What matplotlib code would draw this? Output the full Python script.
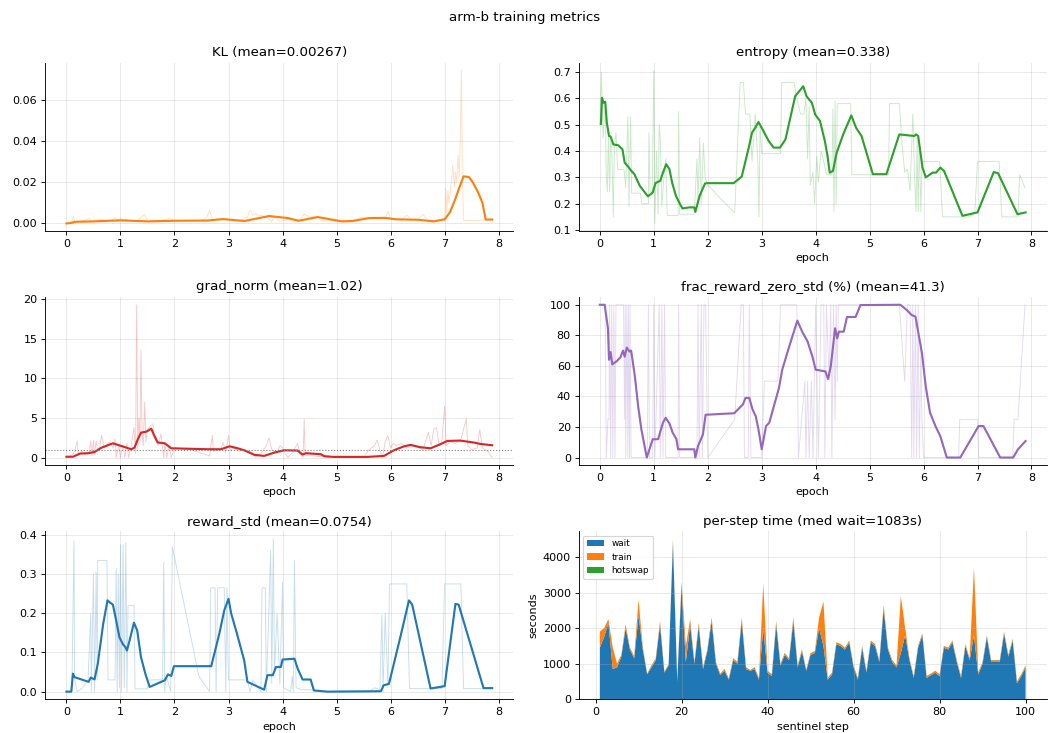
import matplotlib
matplotlib.use("Agg")
import matplotlib.pyplot as plt

# ---- KL ----
kl_raw_x = [0.0, 0.05, 0.1, 0.13, 0.15, 0.25, 0.35, 0.42, 0.45, 0.55, 0.65, 0.75, 0.85, 0.9, 0.95, 1.0, 1.05, 1.1,
            1.2, 1.3, 1.45, 1.5, 1.6, 1.75, 1.9, 2.0, 2.2, 2.5, 2.6, 2.65, 2.7, 2.8, 2.95, 3.0, 3.2, 3.35, 3.4, 3.45,
            3.5, 3.55, 3.6, 3.7, 3.8, 3.85, 3.95, 4.1, 4.2, 4.35, 4.4, 4.5, 4.6, 4.7, 4.75, 4.9, 5.0, 5.15, 5.3, 5.45,
            5.6, 5.75, 5.9, 5.95, 6.0, 6.1, 6.2, 6.3, 6.4, 6.5, 6.6, 6.7, 6.8, 6.95, 7.0, 7.02, 7.04, 7.06, 7.08,
            7.12, 7.15, 7.18, 7.2, 7.22, 7.25, 7.27, 7.29, 7.31, 7.33, 7.35, 7.6, 7.75, 7.88]
kl_raw_y = [0.0, 0.0005, 0.001, 0.0035, 0.0008, 0.001, 0.0015, 0.0025, 0.001, 0.0012, 0.002, 0.001, 0.0018, 0.003,
            0.0012, 0.0025, 0.0015, 0.002, 0.0012, 0.001, 0.0045, 0.001, 0.0008, 0.0012, 0.0025, 0.0015, 0.0015,
            0.0012, 0.003, 0.0065, 0.002, 0.0022, 0.0025, 0.0015, 0.0012, 0.003, 0.0065, 0.004, 0.005, 0.0035,
            0.004, 0.003, 0.001, 0.003, 0.001, 0.002, 0.001, 0.0025, 0.0045, 0.003, 0.0035, 0.0025, 0.001, 0.0015,
            0.001, 0.001, 0.0015, 0.003, 0.003, 0.003, 0.0025, 0.006, 0.002, 0.0025, 0.0018, 0.004, 0.0015, 0.002,
            0.0045, 0.0012, 0.001, 0.002, 0.001, 0.017, 0.005, 0.016, 0.01, 0.019, 0.028, 0.018, 0.025, 0.02, 0.033,
            0.022, 0.04, 0.074, 0.02, 0.0015, 0.0015, 0.0018, 0.002]
kl_sm_x = [0.0, 0.08, 0.15, 0.5, 1.0, 1.5, 2.0, 2.6, 2.9, 3.3, 3.75, 4.1, 4.3, 4.65, 5.1, 5.3, 5.6, 5.9, 6.1, 6.5,
           6.8, 7.0, 7.1, 7.2, 7.28, 7.35, 7.45, 7.52, 7.62, 7.7, 7.76, 7.88]
kl_sm_y = [0.0, 0.0002, 0.0008, 0.001, 0.0015, 0.001, 0.0013, 0.0014, 0.0021, 0.0012, 0.0036, 0.0026, 0.0013, 0.0031,
           0.001, 0.0012, 0.0026, 0.0027, 0.002, 0.0018, 0.001, 0.002, 0.0055, 0.012, 0.018, 0.0228, 0.0225, 0.02,
           0.015, 0.01, 0.0019, 0.0019]

# ---- entropy ----
ent_raw_x = [0.0, 0.03, 0.06, 0.1, 0.12, 0.14, 0.16, 0.18, 0.2, 0.22, 0.25, 0.27, 0.3, 0.33, 0.45, 0.48, 0.52, 0.54,
             0.57, 0.59, 0.75, 0.78, 0.9, 0.91, 0.93, 0.97, 1.0, 1.02, 1.05, 1.08, 1.1, 1.12, 1.15, 1.18, 1.22, 1.25,
             1.45, 1.46, 1.48, 1.75, 1.8, 1.82, 1.85, 1.88, 1.92, 1.95, 2.0, 2.5, 2.6, 2.66, 2.7, 2.78, 2.82, 2.88,
             2.93, 2.95, 2.97, 3.0, 3.35, 3.37, 3.6, 3.65, 3.72, 3.78, 3.82, 3.85, 3.88, 3.9, 3.95, 3.98, 4.02, 4.05,
             4.1, 4.15, 4.2, 4.3, 4.32, 4.34, 4.36, 4.38, 4.4, 4.65, 4.67, 5.35, 5.37, 5.55, 5.6, 5.65, 5.7, 5.75,
             5.8, 5.83, 5.86, 5.88, 5.9, 5.92, 5.95, 5.97, 6.3, 6.35, 6.85, 6.95, 7.0, 7.4, 7.45, 7.75, 7.78, 7.88]
ent_raw_y = [0.5, 0.7, 0.45, 0.58, 0.3, 0.245, 0.47, 0.245, 0.44, 0.42, 0.15, 0.42, 0.47, 0.33, 0.33, 0.26, 0.53,
             0.19, 0.53, 0.24, 0.24, 0.2, 0.2, 0.47, 0.25, 0.24, 0.705, 0.125, 0.4, 0.16, 0.5, 0.45, 0.19, 0.28, 0.37,
             0.155, 0.155, 0.55, 0.16, 0.16, 0.37, 0.2, 0.45, 0.2, 0.43, 0.3, 0.27, 0.165, 0.66, 0.66, 0.54, 0.54,
             0.36, 0.54, 0.35, 0.15, 0.5, 0.39, 0.39, 0.66, 0.66, 0.6, 0.54, 0.54, 0.6, 0.37, 0.57, 0.27, 0.32, 0.2,
             0.38, 0.28, 0.4, 0.36, 0.31, 0.31, 0.56, 0.17, 0.59, 0.2, 0.58, 0.58, 0.31, 0.31, 0.58, 0.58, 0.43,
             0.32, 0.33, 0.25, 0.54, 0.32, 0.17, 0.45, 0.17, 0.43, 0.17, 0.36, 0.36, 0.15, 0.15, 0.17, 0.36, 0.36,
             0.15, 0.15, 0.31, 0.26]
ent_sm_x = [0.02, 0.04, 0.07, 0.1, 0.13, 0.17, 0.2, 0.25, 0.34, 0.42, 0.46, 0.54, 0.57, 0.64, 0.74, 0.86, 0.89, 0.98,
            1.03, 1.12, 1.17, 1.23, 1.29, 1.34, 1.41, 1.47, 1.53, 1.66, 1.75, 1.77, 1.85, 1.95, 1.99, 2.48, 2.63,
            2.76, 2.82, 2.88, 2.94, 3.0, 3.13, 3.22, 3.34, 3.44, 3.62, 3.77, 3.83, 3.93, 3.99, 4.08, 4.17, 4.22,
            4.26, 4.32, 4.39, 4.51, 4.66, 4.75, 4.85, 5.06, 5.31, 5.55, 5.83, 5.86, 5.9, 5.98, 6.04, 6.17, 6.23,
            6.31, 6.38, 6.72, 7.0, 7.3, 7.38, 7.74, 7.89]
ent_sm_y = [0.503, 0.602, 0.583, 0.587, 0.507, 0.457, 0.455, 0.425, 0.422, 0.406, 0.356, 0.337, 0.328, 0.312, 0.268,
            0.236, 0.228, 0.242, 0.278, 0.287, 0.318, 0.35, 0.331, 0.28, 0.23, 0.205, 0.182, 0.186, 0.186, 0.169,
            0.23, 0.277, 0.278, 0.278, 0.303, 0.413, 0.47, 0.488, 0.51, 0.488, 0.438, 0.413, 0.413, 0.444, 0.608,
            0.646, 0.608, 0.583, 0.539, 0.514, 0.438, 0.381, 0.318, 0.324, 0.394, 0.463, 0.535, 0.488, 0.457, 0.312,
            0.312, 0.463, 0.457, 0.463, 0.457, 0.337, 0.3, 0.318, 0.318, 0.337, 0.324, 0.154, 0.167, 0.32, 0.316,
            0.16, 0.167]

# ---- grad_norm ----
gn_raw_x = [0.0, 0.05, 0.1, 0.15, 0.2, 0.22, 0.28, 0.35, 0.42, 0.45, 0.47, 0.5, 0.52, 0.55, 0.58, 0.62, 0.65, 0.7,
            0.8, 0.86, 0.9, 0.92, 0.97, 1.0, 1.05, 1.08, 1.12, 1.15, 1.2, 1.25, 1.28, 1.3, 1.32, 1.34, 1.36, 1.38,
            1.4, 1.42, 1.45, 1.47, 1.5, 1.55, 1.6, 1.63, 1.7, 1.75, 1.8, 1.82, 1.86, 1.9, 1.94, 2.0, 2.3, 2.65, 2.7,
            2.72, 2.85, 2.9, 2.95, 3.0, 3.03, 3.1, 3.2, 3.3, 3.45, 3.5, 3.6, 3.7, 3.75, 3.8, 3.9, 3.95, 4.0, 4.05,
            4.1, 4.2, 4.28, 4.32, 4.38, 4.4, 4.42, 4.5, 4.6, 4.8, 5.5, 5.6, 5.7, 5.75, 5.8, 5.85, 5.9, 5.95, 6.0,
            6.05, 6.1, 6.2, 6.3, 6.4, 6.5, 6.6, 6.7, 6.75, 6.8, 6.85, 6.9, 6.95, 7.0, 7.03, 7.1, 7.2, 7.3, 7.4,
            7.43, 7.5, 7.6, 7.65, 7.7, 7.8, 7.88]
gn_raw_y = [0.0, 0.2, 0.3, 0.8, 2.1, 0.3, 0.8, 0.3, 0.5, 2.1, 0.2, 2.2, 0.4, 2.1, 0.8, 1.5, 2.8, 1.2, 2.0, 1.2, 2.3,
            0.0, 1.5, 0.0, 1.6, 0.0, 1.8, 0.0, 1.5, 3.8, 0.5, 19.3, 1.0, 5.0, 2.0, 13.6, 3.0, 1.5, 7.0, 2.0, 3.5,
            4.0, 4.2, 2.5, 1.5, 3.0, 0.0, 1.8, 0.0, 1.5, 0.0, 1.2, 1.0, 0.2, 2.8, 0.8, 1.0, 1.9, 0.6, 2.8, 0.9,
            1.2, 0.8, 1.0, 0.6, 0.0, 0.5, 1.5, 2.5, 1.0, 0.6, 1.5, 1.2, 0.5, 0.0, 0.8, 1.8, 0.5, 0.0, 4.8, 0.3,
            0.3, 0.2, 0.05, 0.05, 1.0, 1.5, 2.2, 1.0, 0.0, 2.0, 2.8, 1.2, 1.8, 1.5, 1.8, 1.2, 1.5, 1.3, 1.0, 3.2,
            1.5, 3.6, 3.8, 1.5, 2.0, 6.5, 1.5, 2.0, 1.8, 2.2, 4.9, 1.5, 1.0, 1.2, 3.5, 1.2, 0.8, 0.0]
gn_sm_x = [0.0, 0.12, 0.25, 0.4, 0.52, 0.65, 0.86, 1.02, 1.2, 1.26, 1.32, 1.38, 1.48, 1.57, 1.62, 1.69, 1.82, 1.94,
           2.62, 2.86, 3.02, 3.17, 3.29, 3.48, 3.66, 3.85, 4.03, 4.28, 4.37, 4.43, 4.71, 4.77, 4.95, 5.57, 5.88,
           6.06, 6.25, 6.37, 6.55, 6.74, 6.92, 7.05, 7.29, 7.54, 7.66, 7.88]
gn_sm_y = [0.1, 0.1, 0.5, 0.55, 0.7, 1.25, 1.8, 1.45, 1.05, 1.25, 2.3, 3.15, 3.27, 3.65, 2.85, 1.9, 1.8, 1.17, 1.05,
           1.05, 1.42, 1.17, 0.92, 0.34, 0.21, 0.63, 0.92, 0.88, 0.38, 0.55, 0.42, 0.17, 0.08, 0.08, 0.21, 0.92, 1.42,
           1.6, 1.3, 1.17, 1.68, 2.1, 2.14, 1.9, 1.72, 1.55]
gn_ref = 1.0

# ---- frac_reward_zero_std ----
fr_raw_x = [0.0, 0.1, 0.12, 0.15, 0.17, 0.18, 0.2, 0.22, 0.24, 0.26, 0.28, 0.3, 0.44, 0.46, 0.47, 0.48, 0.5, 0.52,
            0.53, 0.55, 0.56, 0.58, 0.88, 0.9, 0.92, 0.98, 1.0, 1.02, 1.1, 1.12, 1.15, 1.17, 1.2, 1.22, 1.45, 1.46,
            1.48, 1.8, 1.82, 1.84, 1.88, 1.9, 1.93, 1.96, 2.0, 2.5, 2.62, 2.66, 2.68, 2.75, 2.77, 2.8, 3.0, 3.05,
            3.3, 3.35, 3.65, 3.68, 3.8, 3.82, 3.85, 3.88, 3.92, 3.95, 4.0, 4.05, 4.1, 4.15, 4.17, 4.2, 4.25, 4.28,
            4.3, 4.33, 4.36, 4.38, 4.4, 4.42, 5.55, 5.6, 5.65, 5.7, 5.75, 5.78, 5.8, 5.82, 5.85, 5.87, 5.9, 5.92,
            5.95, 5.97, 6.0, 6.65, 6.67, 7.0, 7.02, 7.65, 7.68, 7.75, 7.88]
fr_raw_y = [100, 100, 0, 25, 25, 100, 0, 100, 0, 100, 0, 100, 100, 25, 100, 0, 100, 0, 100, 0, 100, 0, 0, 100, 0, 0,
            100, 0, 100, 0, 100, 0, 100, 0, 0, 100, 0, 0, 100, 0, 100, 0, 100, 100, 0, 25, 100, 100, 0, 0, 100, 0,
            0, 50, 50, 100, 100, 0, 50, 0, 50, 0, 50, 0, 100, 0, 100, 100, 0, 100, 50, 100, 0, 100, 25, 100, 50,
            100, 100, 75, 50, 100, 100, 0, 100, 0, 100, 0, 100, 0, 75, 25, 0, 0, 25, 25, 0, 0, 25, 25, 100]
fr_sm_x = [0.0, 0.09, 0.15, 0.17, 0.2, 0.23, 0.31, 0.38, 0.43, 0.46, 0.5, 0.55, 0.58, 0.65, 0.71, 0.77, 0.87, 0.92,
           0.98, 1.08, 1.17, 1.22, 1.29, 1.35, 1.42, 1.45, 1.54, 1.75, 1.77, 1.82, 1.91, 1.96, 2.49, 2.65, 2.7,
           2.77, 2.83, 2.89, 2.94, 3.0, 3.08, 3.14, 3.32, 3.38, 3.51, 3.66, 3.75, 3.85, 3.94, 4.0, 4.18, 4.23,
           4.28, 4.36, 4.4, 4.43, 4.52, 4.58, 4.74, 4.83, 5.57, 5.69, 5.78, 5.85, 5.97, 6.04, 6.12, 6.22, 6.31,
           6.43, 6.68, 7.02, 7.11, 7.42, 7.66, 7.75, 7.89]
fr_sm_y = [100, 100, 84.6, 64, 69, 61, 63, 65.5, 70, 66, 72, 69.4, 70, 53, 33.6, 18.4, 0, 5.4, 12, 12, 22.8, 26, 22.3,
           16.3, 12, 5.4, 5.4, 5.4, 0, 7.6, 15, 28, 29, 34.7, 39, 39, 31.5, 27, 18.4, 5.4, 20.6, 22.8, 45.6, 57.5,
           72.7, 89.6, 82.4, 76, 66, 57.5, 56.4, 51.4, 59.7, 84.6, 78, 82.4, 82.4, 92, 92, 99.8, 100, 96.5, 93.3,
           92.2, 68.3, 46.6, 29.3, 20.6, 14, 0, 0, 20.6, 20.6, 0, 0, 5.4, 10.8]

# ---- reward_std ----
rs_raw_x = [0.0, 0.1, 0.14, 0.15, 0.2, 0.3, 0.4, 0.45, 0.46, 0.5, 0.52, 0.55, 0.57, 0.58, 0.75, 0.77, 0.9, 0.92,
            0.94, 0.96, 0.98, 1.0, 1.02, 1.05, 1.07, 1.1, 1.12, 1.14, 1.25, 1.27, 1.5, 1.53, 1.78, 1.8, 1.82, 1.85,
            1.93, 1.96, 2.45, 2.65, 2.67, 2.75, 2.77, 2.8, 2.92, 2.95, 2.97, 3.0, 3.35, 3.4, 3.45, 3.6, 3.62, 3.68,
            3.7, 3.78, 3.8, 3.83, 3.85, 3.9, 3.95, 4.0, 4.02, 4.15, 4.18, 4.2, 4.22, 4.25, 4.35, 4.5, 4.8, 5.6,
            5.7, 5.8, 5.84, 5.86, 5.9, 5.95, 5.98, 6.3, 6.35, 6.95, 7.0, 7.3, 7.35, 7.75, 7.88]
rs_raw_y = [0.0, 0.0, 0.385, 0.03, 0.0, 0.01, 0.03, 0.2, 0.0, 0.3, 0.0, 0.305, 0.03, 0.335, 0.335, 0.03, 0.03, 0.315,
            0.0, 0.3, 0.01, 0.375, 0.0, 0.375, 0.01, 0.38, 0.0, 0.22, 0.22, 0.007, 0.007, 0.03, 0.03, 0.33, 0.0,
            0.04, 0.0, 0.37, 0.04, 0.0, 0.265, 0.265, 0.0, 0.265, 0.265, 0.0, 0.265, 0.03, 0.03, 0.0, 0.03, 0.0,
            0.265, 0.265, 0.0, 0.36, 0.02, 0.39, 0.05, 0.2, 0.02, 0.28, 0.01, 0.0, 0.04, 0.0, 0.335, 0.01, 0.005,
            0.005, 0.0, 0.0, 0.01, 0.005, 0.195, 0.0, 0.2, 0.01, 0.275, 0.275, 0.008, 0.008, 0.275, 0.275, 0.008,
            0.008, 0.008]
rs_sm_x = [0.0, 0.09, 0.12, 0.15, 0.28, 0.41, 0.45, 0.52, 0.58, 0.68, 0.76, 0.8, 0.86, 0.92, 0.98, 1.05, 1.09, 1.12,
           1.17, 1.25, 1.31, 1.38, 1.46, 1.54, 1.82, 1.88, 1.94, 1.99, 2.68, 2.83, 2.92, 3.0, 3.05, 3.14, 3.29,
           3.35, 3.66, 3.72, 3.82, 3.88, 3.97, 4.0, 4.22, 4.28, 4.37, 4.52, 4.58, 4.83, 5.82, 5.87, 5.97, 6.18,
           6.34, 6.4, 6.74, 7.0, 7.2, 7.26, 7.72, 7.88]
rs_sm_y = [0.0, 0.0, 0.046, 0.037, 0.031, 0.025, 0.036, 0.031, 0.071, 0.173, 0.233, 0.228, 0.222, 0.182, 0.139, 0.12,
           0.114, 0.105, 0.131, 0.176, 0.156, 0.088, 0.046, 0.012, 0.029, 0.044, 0.04, 0.065, 0.065, 0.148, 0.207,
           0.237, 0.199, 0.156, 0.08, 0.025, 0.005, 0.042, 0.042, 0.063, 0.063, 0.082, 0.084, 0.059, 0.031, 0.031,
           0.003, 0.0, 0.001, 0.016, 0.02, 0.139, 0.233, 0.222, 0.008, 0.014, 0.224, 0.222, 0.009, 0.009]

# ---- per-step time ----
steps = list(range(1, 101))
wait_s = [1450, 1750, 2150, 850, 900, 1200, 2000, 1400, 1150, 2350, 1400, 700, 900, 1100, 2100, 750, 950, 4400, 500,
          3200, 1050, 2100, 1000, 2050, 850, 1350, 2200, 1000, 680, 800, 550, 1100, 1000, 2200, 850, 800, 850, 550,
          2000, 750, 650, 2100, 950, 1250, 1100, 2200, 900, 1350, 800, 1250, 1300, 2000, 1500, 550, 700, 1550, 1500,
          1400, 1600, 900, 550, 1450, 750, 1600, 1500, 1050, 2550, 1400, 1050, 900, 1300, 1800, 1100, 600, 1450,
          1800, 600, 680, 750, 650, 1450, 1400, 1600, 1050, 600, 1500, 1100, 1800, 700, 1000, 1750, 1050, 1050,
          1050, 1850, 1200, 1650, 450, 650, 900]
train_s = [450, 250, 100, 600, 100, 50, 100, 50, 50, 450, 50, 20, 50, 50, 100, 30, 30, 100, 50, 100, 450, 150, 50,
           100, 50, 50, 100, 50, 40, 50, 30, 50, 50, 100, 50, 20, 50, 50, 1250, 50, 50, 100, 50, 50, 50, 100, 50, 50,
           30, 50, 50, 300, 1250, 50, 50, 50, 50, 50, 50, 50, 50, 50, 50, 50, 50, 50, 100, 50, 50, 50, 1600, 200,
           50, 50, 50, 50, 50, 40, 50, 50, 50, 50, 50, 50, 50, 50, 50, 1900, 50, 50, 50, 50, 50, 50, 50, 50, 50, 50,
           50, 50]
hotswap_s = [5] * 100
med_wait = 1083

fig, axes = plt.subplots(3, 2, figsize=(13.125, 9.1625), dpi=80)
fig.subplots_adjust(left=0.043, right=0.997, top=0.914, bottom=0.046, wspace=0.139, hspace=0.393)
fig.suptitle("arm-b training metrics", y=0.985)

panels = [
    (axes[0, 0], kl_raw_x, kl_raw_y, kl_sm_x, kl_sm_y, "tab:orange", "KL (mean=0.00267)", False),
    (axes[0, 1], ent_raw_x, ent_raw_y, ent_sm_x, ent_sm_y, "tab:green", "entropy (mean=0.338)", True),
    (axes[1, 0], gn_raw_x, gn_raw_y, gn_sm_x, gn_sm_y, "tab:red", "grad_norm (mean=1.02)", True),
    (axes[1, 1], fr_raw_x, fr_raw_y, fr_sm_x, fr_sm_y, "tab:purple", "frac_reward_zero_std (%) (mean=41.3)", True),
    (axes[2, 0], rs_raw_x, rs_raw_y, rs_sm_x, rs_sm_y, "tab:blue", "reward_std (mean=0.0754)", True),
]

for ax, rx, ry, sx, sy, col, title, xlab in panels:
    ax.plot(rx, ry, color=col, alpha=0.25, lw=0.8)
    ax.plot(sx, sy, color=col, lw=1.9)
    ax.set_title(title)
    if xlab:
        ax.set_xlabel("epoch")
    ax.set_xticks(range(0, 9))
    ax.grid(True, alpha=0.3)
    ax.spines["top"].set_visible(False)
    ax.spines["right"].set_visible(False)

axes[1, 0].axhline(gn_ref, color="gray", ls=":", lw=1)

ax = axes[2, 1]
ax.stackplot(steps, wait_s, train_s, hotswap_s, labels=["wait", "train", "hotswap"],
             colors=["tab:blue", "tab:orange", "tab:green"])
ax.set_title(f"per-step time (med wait={med_wait}s)")
ax.set_xlabel("sentinel step")
ax.set_ylabel("seconds")
ax.legend(loc="upper left", fontsize=8)
ax.grid(True, alpha=0.3)
ax.set_axisbelow(False)
ax.spines["top"].set_visible(False)
ax.spines["right"].set_visible(False)

fig.savefig("out.png", dpi=80)
